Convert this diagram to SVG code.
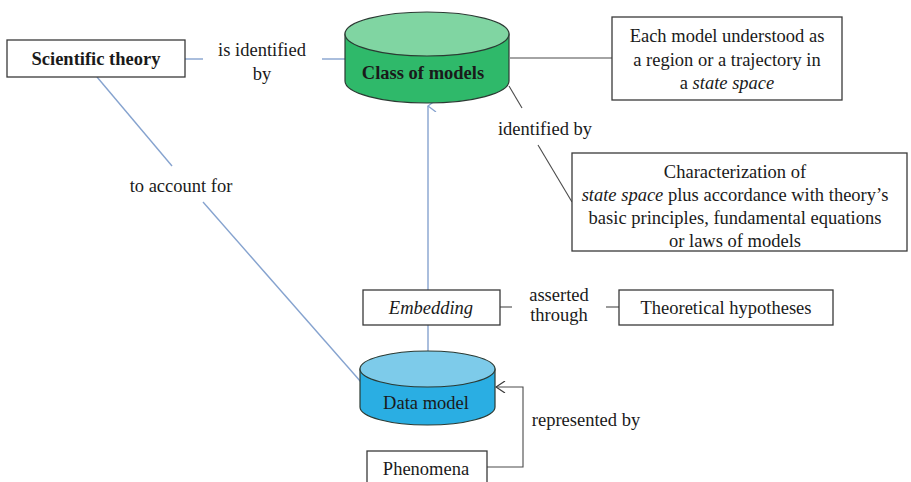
<svg xmlns="http://www.w3.org/2000/svg" width="911" height="482" viewBox="0 0 911 482">
<defs>
<style>
.box{fill:#fff;stroke:#3a3a3a;stroke-width:1.3}
.t{font-size:18.5px;fill:#1a1a1a;text-anchor:middle}
.b{font-weight:bold}
.i{font-style:italic}
.blue{stroke:#86a3cf;stroke-width:1.4;fill:none}
.gray{stroke:#4a4a4a;stroke-width:1.1;fill:none}
.cyl{stroke:#2b3a33;stroke-width:1.2}
</style>
<marker id="arrUp" viewBox="0 0 12 12" refX="6" refY="1" markerWidth="12" markerHeight="12" markerUnits="userSpaceOnUse" orient="auto-start-reverse">
<path d="M0,9 L6,1 L12,9" fill="none" stroke="#86a3cf" stroke-width="1.3"/>
</marker>
<marker id="arrOpen" viewBox="0 0 12 12" refX="11" refY="6" markerWidth="12" markerHeight="12" markerUnits="userSpaceOnUse" orient="auto">
<path d="M2,0 L11,6 L2,12" fill="none" stroke="#3a3a3a" stroke-width="1.2"/>
</marker>
</defs>
<rect width="911" height="482" fill="#fff"/>

<g id="connectors">
<line class="blue" x1="185" y1="59" x2="203" y2="59"/>
<line class="blue" x1="322" y1="59" x2="345" y2="59"/>
<line class="blue" x1="97" y1="77" x2="172" y2="166"/>
<line class="blue" x1="203" y1="202" x2="361" y2="382"/>
<line class="blue" x1="428" y1="290" x2="428" y2="106" marker-end="url(#arrUp)"/>
<line class="blue" x1="428" y1="325" x2="428" y2="351"/>
<line class="gray" x1="510" y1="58" x2="612" y2="58"/>
<line class="gray" x1="509" y1="86" x2="522" y2="108"/>
<line class="gray" x1="538" y1="145" x2="572" y2="202"/>
<line class="gray" x1="500" y1="307" x2="512" y2="307"/>
<line class="gray" x1="606" y1="307" x2="619" y2="307"/>
<polyline class="gray" points="487,467 523,467 523,387 496,387" marker-end="url(#arrOpen)"/>
</g>

<g font-family="Liberation Serif, Times New Roman, DejaVu Serif, serif">
<g id="scientific-theory">
<rect class="box" x="7" y="40" width="178" height="37"/>
<text class="t b" x="96" y="65">Scientific theory</text>
</g>

<g id="label-is-identified">
<text class="t" x="262" y="56">is identified</text>
<text class="t" x="262" y="80">by</text>
</g>

<g id="class-of-models">
<path class="cyl" d="M345,34 L345,81 A82,22 0 0 0 509,81 L509,34 Z" fill="#2fb96a"/>
<ellipse class="cyl" cx="427" cy="34" rx="82" ry="22" fill="#80d5a2"/>
<text class="t b" x="423" y="79">Class of models</text>
</g>

<g id="each-model">
<rect class="box" x="612" y="17" width="230" height="83"/>
<text class="t" x="727" y="42">Each model understood as</text>
<text class="t" x="727" y="66">a region or a trajectory in</text>
<text class="t" x="727" y="89">a <tspan class="i">state space</tspan></text>
</g>

<g id="label-identified-by">
<text class="t" x="545" y="135">identified by</text>
</g>

<g id="characterization">
<rect class="box" x="572" y="153" width="335" height="98"/>
<text class="t" x="735" y="178">Characterization of</text>
<text class="t" x="735" y="201"><tspan class="i">state space</tspan> plus accordance with theory’s</text>
<text class="t" x="735" y="224">basic principles, fundamental equations</text>
<text class="t" x="735" y="247">or laws of models</text>
</g>

<g id="label-to-account-for">
<text class="t" x="181" y="192">to account for</text>
</g>

<g id="embedding">
<rect class="box" x="363" y="290" width="137" height="35"/>
<text class="t i" x="431" y="314">Embedding</text>
</g>

<g id="label-asserted-through">
<text class="t" x="559" y="301">asserted</text>
<text class="t" x="559" y="321">through</text>
</g>

<g id="theoretical-hypotheses">
<rect class="box" x="619" y="290" width="214" height="35"/>
<text class="t" x="726" y="314">Theoretical hypotheses</text>
</g>

<g id="data-model">
<path class="cyl" d="M360,369 L360,407 A67.5,18 0 0 0 495,407 L495,369 Z" fill="#2aaee3"/>
<ellipse class="cyl" cx="427.5" cy="369" rx="67.5" ry="18" fill="#7dcbea"/>
<text class="t" x="426" y="409">Data model</text>
</g>

<g id="label-represented-by">
<text class="t" x="586" y="426">represented by</text>
</g>

<g id="phenomena">
<rect class="box" x="367" y="451" width="120" height="40"/>
<text class="t" x="426" y="475">Phenomena</text>
</g>
</g>
</svg>
